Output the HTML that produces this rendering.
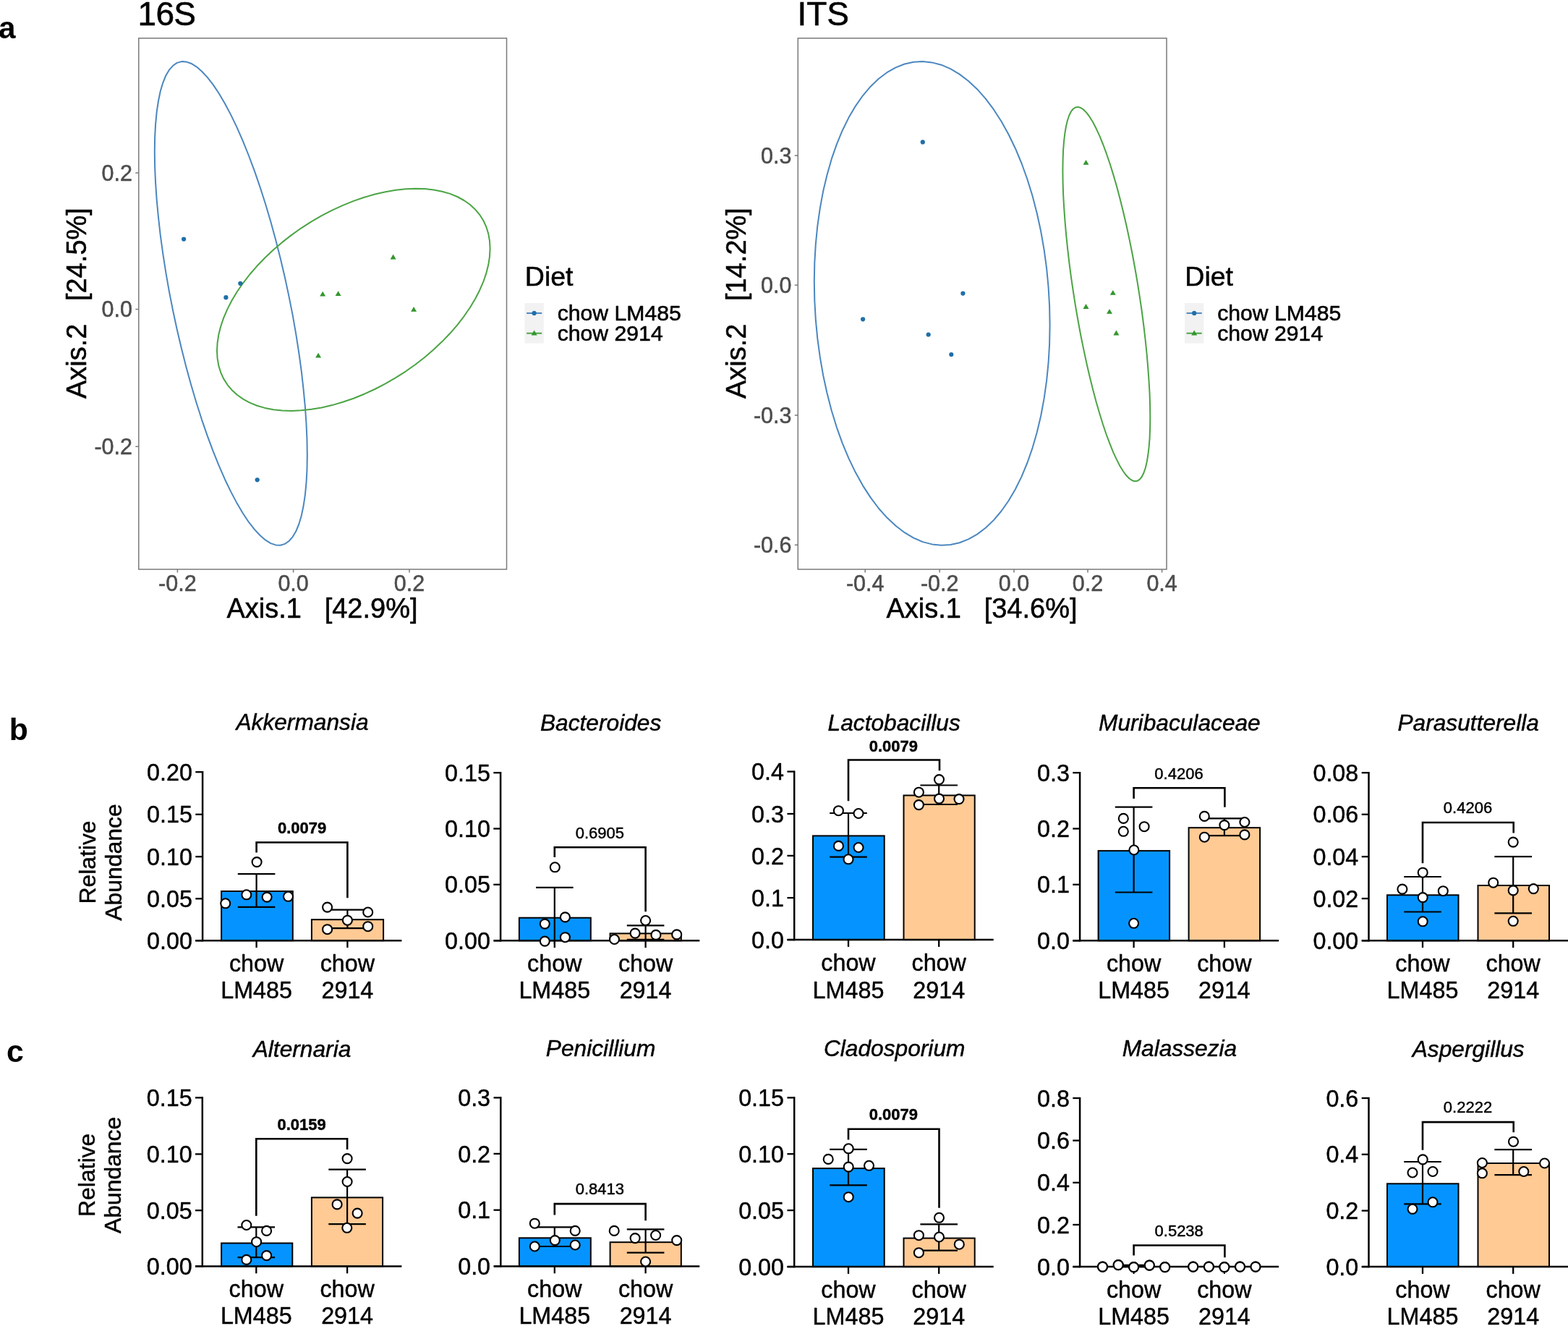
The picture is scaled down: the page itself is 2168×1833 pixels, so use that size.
<!DOCTYPE html>
<html lang="en"><head><meta charset="utf-8"><title>Figure</title>
<style>html,body{margin:0;padding:0;background:#fff}svg{display:block}text{white-space:pre}</style>
</head><body>
<svg width="2168" height="1833" viewBox="0 0 2168 1833" font-family='"Liberation Sans", Arial, Helvetica, sans-serif'>
<rect width="2168" height="1833" fill="#fff"/>
<text x="-2.0" y="52.5" font-size="42.3" text-anchor="start" font-weight="bold" font-style="normal" fill="#000">a</text>
<text x="12.7" y="1022.9" font-size="42.7" text-anchor="start" font-weight="bold" font-style="normal" fill="#000">b</text>
<text x="8.9" y="1468.1" font-size="42.9" text-anchor="start" font-weight="bold" font-style="normal" fill="#000">c</text>
<text x="190.6" y="34.5" font-size="46" text-anchor="start" font-weight="normal" font-style="normal" fill="#000" stroke="#000" stroke-width="0.55" stroke-linejoin="round" letter-spacing="-0.7">16S</text>
<path d="M424.8,629.1 L424.5,648.9 L423.5,667.2 L421.9,684.1 L419.6,699.3 L416.8,712.8 L413.3,724.5 L409.3,734.3 L404.7,742.1 L399.5,748.0 L393.9,751.9 L387.8,753.7 L381.3,753.4 L374.4,751.1 L367.2,746.7 L359.7,740.3 L351.9,731.9 L343.9,721.7 L335.8,709.5 L327.6,695.6 L319.3,679.9 L311.0,662.7 L302.8,643.9 L294.7,623.8 L286.7,602.4 L278.9,579.8 L271.4,556.3 L264.2,532.0 L257.3,506.9 L250.8,481.3 L244.7,455.3 L239.1,429.2 L233.9,402.9 L229.3,376.7 L225.3,350.9 L221.8,325.4 L219.0,300.5 L216.7,276.3 L215.1,253.1 L214.1,230.8 L213.8,209.7 L214.1,189.9 L215.1,171.6 L216.7,154.7 L219.0,139.5 L221.8,126.0 L225.3,114.3 L229.3,104.5 L233.9,96.7 L239.1,90.8 L244.7,86.9 L250.8,85.1 L257.3,85.4 L264.2,87.7 L271.4,92.1 L278.9,98.5 L286.7,106.9 L294.7,117.1 L302.8,129.3 L311.0,143.2 L319.3,158.9 L327.6,176.1 L335.8,194.9 L343.9,215.0 L351.9,236.4 L359.7,259.0 L367.2,282.5 L374.4,306.8 L381.3,331.9 L387.8,357.5 L393.9,383.5 L399.5,409.6 L404.7,435.9 L409.3,462.1 L413.3,487.9 L416.8,513.4 L419.6,538.3 L421.9,562.5 L423.5,585.7 L424.5,608.0Z" fill="none" stroke="#4b87c0" stroke-width="2.0" stroke-linejoin="round"/>
<path d="M677.6,343.6 L677.0,354.6 L675.3,365.8 L672.4,377.4 L668.4,389.2 L663.2,401.2 L657.0,413.3 L649.8,425.3 L641.5,437.3 L632.4,449.1 L622.3,460.8 L611.4,472.1 L599.8,483.1 L587.4,493.7 L574.5,503.7 L561.1,513.3 L547.1,522.2 L532.9,530.4 L518.3,538.0 L503.6,544.7 L488.8,550.7 L474.0,555.8 L459.3,560.1 L444.7,563.4 L430.5,565.8 L416.5,567.3 L403.1,567.9 L390.2,567.5 L377.8,566.2 L366.2,563.9 L355.3,560.7 L345.2,556.6 L336.1,551.6 L327.8,545.8 L320.6,539.2 L314.4,531.8 L309.2,523.6 L305.2,514.8 L302.3,505.4 L300.6,495.4 L300.0,485.0 L300.6,474.0 L302.3,462.8 L305.2,451.2 L309.2,439.4 L314.4,427.4 L320.6,415.3 L327.8,403.3 L336.1,391.3 L345.2,379.5 L355.3,367.8 L366.2,356.5 L377.8,345.5 L390.2,334.9 L403.1,324.9 L416.5,315.3 L430.5,306.4 L444.7,298.2 L459.3,290.6 L474.0,283.9 L488.8,277.9 L503.6,272.8 L518.3,268.5 L532.9,265.2 L547.1,262.8 L561.1,261.3 L574.5,260.7 L587.4,261.1 L599.8,262.4 L611.4,264.7 L622.3,267.9 L632.4,272.0 L641.5,277.0 L649.8,282.8 L657.0,289.4 L663.2,296.8 L668.4,305.0 L672.4,313.8 L675.3,323.2 L677.0,333.2Z" fill="none" stroke="#4ba444" stroke-width="2.0" stroke-linejoin="round"/>
<circle cx="254.1" cy="330.6" r="3.1" fill="#1f6fa9"/>
<circle cx="312.4" cy="411.2" r="3.1" fill="#1f6fa9"/>
<circle cx="332.3" cy="391.8" r="3.1" fill="#1f6fa9"/>
<circle cx="355.7" cy="663.3" r="3.1" fill="#1f6fa9"/>
<path d="M543.6,351.5 L547.6,358.4 L539.6,358.4Z" fill="#33962d"/>
<path d="M446.2,402.7 L450.2,409.6 L442.2,409.6Z" fill="#33962d"/>
<path d="M467.6,402.2 L471.6,409.1 L463.6,409.1Z" fill="#33962d"/>
<path d="M572.1,423.9 L576.1,430.8 L568.1,430.8Z" fill="#33962d"/>
<path d="M440.1,487.7 L444.1,494.6 L436.1,494.6Z" fill="#33962d"/>
<rect x="191.8" y="52.8" width="508.7" height="734.2" fill="none" stroke="#7a7a7a" stroke-width="1.5"/>
<line x1="245.4" y1="787" x2="245.4" y2="791.5" stroke="#7a7a7a" stroke-width="1.5"/>
<text x="245.4" y="816.8" font-size="30.5" text-anchor="middle" font-weight="normal" font-style="normal" fill="#4d4d4d" stroke="#4d4d4d" stroke-width="0.55" stroke-linejoin="round">-0.2</text>
<line x1="405.6" y1="787" x2="405.6" y2="791.5" stroke="#7a7a7a" stroke-width="1.5"/>
<text x="405.6" y="816.8" font-size="30.5" text-anchor="middle" font-weight="normal" font-style="normal" fill="#4d4d4d" stroke="#4d4d4d" stroke-width="0.55" stroke-linejoin="round">0.0</text>
<line x1="566" y1="787" x2="566" y2="791.5" stroke="#7a7a7a" stroke-width="1.5"/>
<text x="566.0" y="816.8" font-size="30.5" text-anchor="middle" font-weight="normal" font-style="normal" fill="#4d4d4d" stroke="#4d4d4d" stroke-width="0.55" stroke-linejoin="round">0.2</text>
<line x1="187.3" y1="239" x2="191.8" y2="239" stroke="#7a7a7a" stroke-width="1.5"/>
<text x="183.0" y="249.9" font-size="30.5" text-anchor="end" font-weight="normal" font-style="normal" fill="#4d4d4d" stroke="#4d4d4d" stroke-width="0.55" stroke-linejoin="round">0.2</text>
<line x1="187.3" y1="427.5" x2="191.8" y2="427.5" stroke="#7a7a7a" stroke-width="1.5"/>
<text x="183.0" y="438.4" font-size="30.5" text-anchor="end" font-weight="normal" font-style="normal" fill="#4d4d4d" stroke="#4d4d4d" stroke-width="0.55" stroke-linejoin="round">0.0</text>
<line x1="187.3" y1="617.3" x2="191.8" y2="617.3" stroke="#7a7a7a" stroke-width="1.5"/>
<text x="183.0" y="628.2" font-size="30.5" text-anchor="end" font-weight="normal" font-style="normal" fill="#4d4d4d" stroke="#4d4d4d" stroke-width="0.55" stroke-linejoin="round">-0.2</text>
<text x="445.5" y="854.3" font-size="38" text-anchor="middle" font-weight="normal" font-style="normal" fill="#000" stroke="#000" stroke-width="0.55" stroke-linejoin="round" xml:space="preserve">Axis.1   [42.9%]</text>
<text transform="translate(119.0,419.1) rotate(-90)" font-size="38" text-anchor="middle" fill="#000" stroke="#000" stroke-width="0.55" stroke-linejoin="round" xml:space="preserve">Axis.2   [24.5%]</text>
<text x="725.8" y="395.1" font-size="37.5" text-anchor="start" font-weight="normal" font-style="normal" fill="#000" stroke="#000" stroke-width="0.55" stroke-linejoin="round">Diet</text>
<rect x="725.5" y="419" width="26.3" height="55.6" fill="#f2f2f2"/>
<line x1="728.1" y1="432.9" x2="749.1999999999999" y2="432.9" stroke="#4b87c0" stroke-width="2.0"/>
<circle cx="738.6" cy="432.9" r="3.1" fill="#1f6fa9"/>
<text x="770.7" y="442.8" font-size="30.2" text-anchor="start" font-weight="normal" font-style="normal" fill="#000" stroke="#000" stroke-width="0.55" stroke-linejoin="round">chow LM485</text>
<line x1="728.1" y1="460.7" x2="749.1999999999999" y2="460.7" stroke="#4ba444" stroke-width="2.0"/>
<path d="M738.6,456.6 L742.6,463.5 L734.6,463.5Z" fill="#33962d"/>
<text x="770.7" y="471.0" font-size="30.2" text-anchor="start" font-weight="normal" font-style="normal" fill="#000" stroke="#000" stroke-width="0.55" stroke-linejoin="round">chow 2914</text>
<text x="1102.4" y="34.5" font-size="46" text-anchor="start" font-weight="normal" font-style="normal" fill="#000" stroke="#000" stroke-width="0.55" stroke-linejoin="round">ITS</text>
<path d="M1451.6,449.5 L1451.1,475.5 L1449.6,501.2 L1447.1,526.4 L1443.6,550.9 L1439.2,574.7 L1433.8,597.4 L1427.6,619.1 L1420.5,639.5 L1412.6,658.6 L1403.9,676.2 L1394.5,692.2 L1384.5,706.5 L1373.8,719.1 L1362.7,729.8 L1351.0,738.6 L1339.0,745.4 L1326.7,750.3 L1314.2,753.1 L1301.5,753.8 L1288.7,752.4 L1275.9,749.1 L1263.2,743.6 L1250.7,736.2 L1238.4,726.8 L1226.4,715.6 L1214.7,702.5 L1203.6,687.6 L1192.9,671.1 L1182.9,653.1 L1173.5,633.6 L1164.8,612.8 L1156.9,590.8 L1149.8,567.8 L1143.6,543.8 L1138.2,519.0 L1133.8,493.7 L1130.3,467.9 L1127.8,441.8 L1126.3,415.5 L1125.8,389.3 L1126.3,363.3 L1127.8,337.6 L1130.3,312.4 L1133.8,287.9 L1138.2,264.1 L1143.6,241.4 L1149.8,219.7 L1156.9,199.3 L1164.8,180.2 L1173.5,162.6 L1182.9,146.6 L1192.9,132.3 L1203.6,119.7 L1214.7,109.0 L1226.4,100.2 L1238.4,93.4 L1250.7,88.5 L1263.2,85.7 L1275.9,85.0 L1288.7,86.4 L1301.5,89.7 L1314.2,95.2 L1326.7,102.6 L1339.0,112.0 L1351.0,123.2 L1362.7,136.3 L1373.8,151.2 L1384.5,167.7 L1394.5,185.7 L1403.9,205.2 L1412.6,226.0 L1420.5,248.0 L1427.6,271.0 L1433.8,295.0 L1439.2,319.8 L1443.6,345.1 L1447.1,370.9 L1449.6,397.0 L1451.1,423.3Z" fill="none" stroke="#4b87c0" stroke-width="2.0" stroke-linejoin="round"/>
<path d="M1590.3,577.3 L1590.1,592.1 L1589.6,605.6 L1588.6,618.0 L1587.3,629.0 L1585.7,638.7 L1583.7,647.0 L1581.4,653.7 L1578.8,659.0 L1575.8,662.7 L1572.6,664.8 L1569.1,665.3 L1565.4,664.2 L1561.4,661.5 L1557.3,657.3 L1553.0,651.5 L1548.5,644.2 L1544.0,635.4 L1539.3,625.3 L1534.6,613.7 L1529.8,601.0 L1525.1,587.0 L1520.4,571.8 L1515.7,555.7 L1511.2,538.7 L1506.7,520.8 L1502.4,502.3 L1498.3,483.1 L1494.3,463.5 L1490.6,443.5 L1487.1,423.3 L1483.9,403.0 L1480.9,382.7 L1478.3,362.6 L1476.0,342.7 L1474.0,323.2 L1472.4,304.3 L1471.1,285.9 L1470.1,268.4 L1469.6,251.6 L1469.4,235.9 L1469.6,221.1 L1470.1,207.6 L1471.1,195.2 L1472.4,184.2 L1474.0,174.5 L1476.0,166.2 L1478.3,159.5 L1480.9,154.2 L1483.9,150.5 L1487.1,148.4 L1490.6,147.9 L1494.3,149.0 L1498.3,151.7 L1502.4,155.9 L1506.7,161.7 L1511.2,169.0 L1515.7,177.8 L1520.4,187.9 L1525.1,199.5 L1529.8,212.2 L1534.6,226.2 L1539.3,241.4 L1544.0,257.5 L1548.5,274.5 L1553.0,292.4 L1557.3,310.9 L1561.4,330.1 L1565.4,349.7 L1569.1,369.7 L1572.6,389.9 L1575.8,410.2 L1578.8,430.5 L1581.4,450.6 L1583.7,470.5 L1585.7,490.0 L1587.3,508.9 L1588.6,527.3 L1589.6,544.8 L1590.1,561.6Z" fill="none" stroke="#4ba444" stroke-width="2.0" stroke-linejoin="round"/>
<circle cx="1275.8" cy="196.4" r="3.1" fill="#1f6fa9"/>
<circle cx="1331.4" cy="405.6" r="3.1" fill="#1f6fa9"/>
<circle cx="1193.1" cy="441.3" r="3.1" fill="#1f6fa9"/>
<circle cx="1283.7" cy="462.5" r="3.1" fill="#1f6fa9"/>
<circle cx="1315.3" cy="490.0" r="3.1" fill="#1f6fa9"/>
<path d="M1501.5,220.9 L1505.5,227.8 L1497.5,227.8Z" fill="#33962d"/>
<path d="M1538.8,400.9 L1542.8,407.8 L1534.8,407.8Z" fill="#33962d"/>
<path d="M1501.5,420.1 L1505.5,427.0 L1497.5,427.0Z" fill="#33962d"/>
<path d="M1534.0,426.9 L1538.0,433.8 L1530.0,433.8Z" fill="#33962d"/>
<path d="M1543.4,456.6 L1547.4,463.5 L1539.4,463.5Z" fill="#33962d"/>
<rect x="1103.3" y="52.8" width="509.7" height="734.2" fill="none" stroke="#7a7a7a" stroke-width="1.5"/>
<line x1="1196.2" y1="787" x2="1196.2" y2="791.5" stroke="#7a7a7a" stroke-width="1.5"/>
<text x="1196.2" y="816.8" font-size="30.5" text-anchor="middle" font-weight="normal" font-style="normal" fill="#4d4d4d" stroke="#4d4d4d" stroke-width="0.55" stroke-linejoin="round">-0.4</text>
<line x1="1299.2" y1="787" x2="1299.2" y2="791.5" stroke="#7a7a7a" stroke-width="1.5"/>
<text x="1299.2" y="816.8" font-size="30.5" text-anchor="middle" font-weight="normal" font-style="normal" fill="#4d4d4d" stroke="#4d4d4d" stroke-width="0.55" stroke-linejoin="round">-0.2</text>
<line x1="1402" y1="787" x2="1402" y2="791.5" stroke="#7a7a7a" stroke-width="1.5"/>
<text x="1402.0" y="816.8" font-size="30.5" text-anchor="middle" font-weight="normal" font-style="normal" fill="#4d4d4d" stroke="#4d4d4d" stroke-width="0.55" stroke-linejoin="round">0.0</text>
<line x1="1504" y1="787" x2="1504" y2="791.5" stroke="#7a7a7a" stroke-width="1.5"/>
<text x="1504.0" y="816.8" font-size="30.5" text-anchor="middle" font-weight="normal" font-style="normal" fill="#4d4d4d" stroke="#4d4d4d" stroke-width="0.55" stroke-linejoin="round">0.2</text>
<line x1="1606.6" y1="787" x2="1606.6" y2="791.5" stroke="#7a7a7a" stroke-width="1.5"/>
<text x="1606.6" y="816.8" font-size="30.5" text-anchor="middle" font-weight="normal" font-style="normal" fill="#4d4d4d" stroke="#4d4d4d" stroke-width="0.55" stroke-linejoin="round">0.4</text>
<line x1="1098.8" y1="215" x2="1103.3" y2="215" stroke="#7a7a7a" stroke-width="1.5"/>
<text x="1094.5" y="225.9" font-size="30.5" text-anchor="end" font-weight="normal" font-style="normal" fill="#4d4d4d" stroke="#4d4d4d" stroke-width="0.55" stroke-linejoin="round">0.3</text>
<line x1="1098.8" y1="394.1" x2="1103.3" y2="394.1" stroke="#7a7a7a" stroke-width="1.5"/>
<text x="1094.5" y="405.0" font-size="30.5" text-anchor="end" font-weight="normal" font-style="normal" fill="#4d4d4d" stroke="#4d4d4d" stroke-width="0.55" stroke-linejoin="round">0.0</text>
<line x1="1098.8" y1="574" x2="1103.3" y2="574" stroke="#7a7a7a" stroke-width="1.5"/>
<text x="1094.5" y="584.9" font-size="30.5" text-anchor="end" font-weight="normal" font-style="normal" fill="#4d4d4d" stroke="#4d4d4d" stroke-width="0.55" stroke-linejoin="round">-0.3</text>
<line x1="1098.8" y1="753.3" x2="1103.3" y2="753.3" stroke="#7a7a7a" stroke-width="1.5"/>
<text x="1094.5" y="764.2" font-size="30.5" text-anchor="end" font-weight="normal" font-style="normal" fill="#4d4d4d" stroke="#4d4d4d" stroke-width="0.55" stroke-linejoin="round">-0.6</text>
<text x="1357.5" y="854.3" font-size="38" text-anchor="middle" font-weight="normal" font-style="normal" fill="#000" stroke="#000" stroke-width="0.55" stroke-linejoin="round" xml:space="preserve">Axis.1   [34.6%]</text>
<text transform="translate(1031.0,419.1) rotate(-90)" font-size="38" text-anchor="middle" fill="#000" stroke="#000" stroke-width="0.55" stroke-linejoin="round" xml:space="preserve">Axis.2   [14.2%]</text>
<text x="1638.3" y="395.1" font-size="37.5" text-anchor="start" font-weight="normal" font-style="normal" fill="#000" stroke="#000" stroke-width="0.55" stroke-linejoin="round">Diet</text>
<rect x="1638" y="419" width="26.3" height="55.6" fill="#f2f2f2"/>
<line x1="1640.6" y1="432.9" x2="1661.7" y2="432.9" stroke="#4b87c0" stroke-width="2.0"/>
<circle cx="1651.2" cy="432.9" r="3.1" fill="#1f6fa9"/>
<text x="1683.2" y="442.8" font-size="30.2" text-anchor="start" font-weight="normal" font-style="normal" fill="#000" stroke="#000" stroke-width="0.55" stroke-linejoin="round">chow LM485</text>
<line x1="1640.6" y1="460.7" x2="1661.7" y2="460.7" stroke="#4ba444" stroke-width="2.0"/>
<path d="M1651.2,456.6 L1655.2,463.5 L1647.2,463.5Z" fill="#33962d"/>
<text x="1683.2" y="471.0" font-size="30.2" text-anchor="start" font-weight="normal" font-style="normal" fill="#000" stroke="#000" stroke-width="0.55" stroke-linejoin="round">chow 2914</text>
<text transform="translate(132.0,1192.0) rotate(-90)" font-size="31.9" text-anchor="middle" fill="#000" stroke="#000" stroke-width="0.45" stroke-linejoin="round" xml:space="preserve">Relative</text>
<text transform="translate(168.0,1192.0) rotate(-90)" font-size="31.9" text-anchor="middle" fill="#000" stroke="#000" stroke-width="0.45" stroke-linejoin="round" xml:space="preserve">Abundance</text>
<text transform="translate(131.0,1624.4) rotate(-90)" font-size="31.9" text-anchor="middle" fill="#000" stroke="#000" stroke-width="0.45" stroke-linejoin="round" xml:space="preserve">Relative</text>
<text transform="translate(167.0,1624.4) rotate(-90)" font-size="31.9" text-anchor="middle" fill="#000" stroke="#000" stroke-width="0.45" stroke-linejoin="round" xml:space="preserve">Abundance</text>
<text x="418.0" y="1009.0" font-size="31.7" text-anchor="middle" font-weight="normal" font-style="italic" fill="#000" stroke="#000" stroke-width="0.45" stroke-linejoin="round">Akkermansia</text>
<rect x="306.1" y="1232.0" width="98.7" height="68.2" fill="#0594ff" stroke="#000" stroke-width="2.0"/>
<rect x="430.9" y="1271.2" width="99.2" height="29.0" fill="#ffca94" stroke="#000" stroke-width="2.0"/>
<path d="M280.1,1066.0 V1301.4" stroke="#000" stroke-width="2.5" fill="none"/>
<path d="M270.2,1300.2 H555.4" stroke="#000" stroke-width="2.5" fill="none"/>
<path d="M270.3,1067.2 H280.1" stroke="#000" stroke-width="2.3"/>
<text x="265.9" y="1078.8" font-size="32.3" text-anchor="end" font-weight="normal" font-style="normal" fill="#000" stroke="#000" stroke-width="0.45" stroke-linejoin="round">0.20</text>
<path d="M270.3,1125.8 H280.1" stroke="#000" stroke-width="2.3"/>
<text x="265.9" y="1137.4" font-size="32.3" text-anchor="end" font-weight="normal" font-style="normal" fill="#000" stroke="#000" stroke-width="0.45" stroke-linejoin="round">0.15</text>
<path d="M270.3,1184.2 H280.1" stroke="#000" stroke-width="2.3"/>
<text x="265.9" y="1195.8" font-size="32.3" text-anchor="end" font-weight="normal" font-style="normal" fill="#000" stroke="#000" stroke-width="0.45" stroke-linejoin="round">0.10</text>
<path d="M270.3,1242.3 H280.1" stroke="#000" stroke-width="2.3"/>
<text x="265.9" y="1253.9" font-size="32.3" text-anchor="end" font-weight="normal" font-style="normal" fill="#000" stroke="#000" stroke-width="0.45" stroke-linejoin="round">0.05</text>
<path d="M270.3,1300.2 H280.1" stroke="#000" stroke-width="2.3"/>
<text x="265.9" y="1311.8" font-size="32.3" text-anchor="end" font-weight="normal" font-style="normal" fill="#000" stroke="#000" stroke-width="0.45" stroke-linejoin="round">0.00</text>
<path d="M354.6,1300.2 V1310.0" stroke="#000" stroke-width="2.3"/>
<text x="354.6" y="1342.9" font-size="32.3" text-anchor="middle" font-weight="normal" font-style="normal" fill="#000" stroke="#000" stroke-width="0.45" stroke-linejoin="round">chow</text>
<text x="354.6" y="1380.4" font-size="32.3" text-anchor="middle" font-weight="normal" font-style="normal" fill="#000" stroke="#000" stroke-width="0.45" stroke-linejoin="round">LM485</text>
<path d="M480.4,1300.2 V1310.0" stroke="#000" stroke-width="2.3"/>
<text x="480.4" y="1342.9" font-size="32.3" text-anchor="middle" font-weight="normal" font-style="normal" fill="#000" stroke="#000" stroke-width="0.45" stroke-linejoin="round">chow</text>
<text x="480.4" y="1380.4" font-size="32.3" text-anchor="middle" font-weight="normal" font-style="normal" fill="#000" stroke="#000" stroke-width="0.45" stroke-linejoin="round">2914</text>
<path d="M354.6,1208.2 V1253.9 M328.8,1208.2 H380.4 M328.8,1253.9 H380.4" stroke="#000" stroke-width="2.2" fill="none"/>
<path d="M480.4,1257.7 V1283.2 M454.6,1257.7 H506.2 M454.6,1283.2 H506.2" stroke="#000" stroke-width="2.2" fill="none"/>
<circle cx="355.1" cy="1191.6" r="6.5" fill="#fff" stroke="#000" stroke-width="2.1"/>
<circle cx="311.7" cy="1248.8" r="6.5" fill="#fff" stroke="#000" stroke-width="2.1"/>
<circle cx="340.8" cy="1236.8" r="6.5" fill="#fff" stroke="#000" stroke-width="2.1"/>
<circle cx="369.1" cy="1240.1" r="6.5" fill="#fff" stroke="#000" stroke-width="2.1"/>
<circle cx="398.5" cy="1239.3" r="6.5" fill="#fff" stroke="#000" stroke-width="2.1"/>
<circle cx="452.6" cy="1254.1" r="6.5" fill="#fff" stroke="#000" stroke-width="2.1"/>
<circle cx="508.7" cy="1261.0" r="6.5" fill="#fff" stroke="#000" stroke-width="2.1"/>
<circle cx="480.4" cy="1272.2" r="6.5" fill="#fff" stroke="#000" stroke-width="2.1"/>
<circle cx="452.6" cy="1284.7" r="6.5" fill="#fff" stroke="#000" stroke-width="2.1"/>
<circle cx="508.7" cy="1280.7" r="6.5" fill="#fff" stroke="#000" stroke-width="2.1"/>
<path d="M354.6,1178.6 V1164.5 H480.4 V1241.2" stroke="#000" stroke-width="2.6" fill="none" stroke-linejoin="miter"/>
<text x="417.6" y="1152.4" font-size="22" text-anchor="middle" font-weight="bold" font-style="normal" fill="#000" stroke="#000" stroke-width="0.45" stroke-linejoin="round">0.0079</text>
<text x="830.6" y="1009.7" font-size="31.7" text-anchor="middle" font-weight="normal" font-style="italic" fill="#000" stroke="#000" stroke-width="0.45" stroke-linejoin="round">Bacteroides</text>
<rect x="717.9" y="1268.7" width="98.9" height="31.6" fill="#0594ff" stroke="#000" stroke-width="2.0"/>
<rect x="843.6" y="1290.4" width="98.2" height="9.9" fill="#ffca94" stroke="#000" stroke-width="2.0"/>
<path d="M692.1,1067.0 V1301.5" stroke="#000" stroke-width="2.5" fill="none"/>
<path d="M682.9,1300.3 H967.3" stroke="#000" stroke-width="2.5" fill="none"/>
<path d="M682.3,1068.2 H692.1" stroke="#000" stroke-width="2.3"/>
<text x="677.9" y="1079.8" font-size="32.3" text-anchor="end" font-weight="normal" font-style="normal" fill="#000" stroke="#000" stroke-width="0.45" stroke-linejoin="round">0.15</text>
<path d="M682.3,1145.5 H692.1" stroke="#000" stroke-width="2.3"/>
<text x="677.9" y="1157.1" font-size="32.3" text-anchor="end" font-weight="normal" font-style="normal" fill="#000" stroke="#000" stroke-width="0.45" stroke-linejoin="round">0.10</text>
<path d="M682.3,1222.8 H692.1" stroke="#000" stroke-width="2.3"/>
<text x="677.9" y="1234.4" font-size="32.3" text-anchor="end" font-weight="normal" font-style="normal" fill="#000" stroke="#000" stroke-width="0.45" stroke-linejoin="round">0.05</text>
<path d="M682.3,1300.3 H692.1" stroke="#000" stroke-width="2.3"/>
<text x="677.9" y="1311.9" font-size="32.3" text-anchor="end" font-weight="normal" font-style="normal" fill="#000" stroke="#000" stroke-width="0.45" stroke-linejoin="round">0.00</text>
<path d="M766.8,1300.3 V1310.1" stroke="#000" stroke-width="2.3"/>
<text x="766.8" y="1343.4" font-size="32.3" text-anchor="middle" font-weight="normal" font-style="normal" fill="#000" stroke="#000" stroke-width="0.45" stroke-linejoin="round">chow</text>
<text x="766.8" y="1380.4" font-size="32.3" text-anchor="middle" font-weight="normal" font-style="normal" fill="#000" stroke="#000" stroke-width="0.45" stroke-linejoin="round">LM485</text>
<path d="M892.6,1300.3 V1310.1" stroke="#000" stroke-width="2.3"/>
<text x="892.6" y="1343.4" font-size="32.3" text-anchor="middle" font-weight="normal" font-style="normal" fill="#000" stroke="#000" stroke-width="0.45" stroke-linejoin="round">chow</text>
<text x="892.6" y="1380.4" font-size="32.3" text-anchor="middle" font-weight="normal" font-style="normal" fill="#000" stroke="#000" stroke-width="0.45" stroke-linejoin="round">2914</text>
<path d="M766.8,1226.8 V1305.0 M741.0,1226.8 H792.6" stroke="#000" stroke-width="2.2" fill="none"/>
<path d="M892.6,1279.4 V1298.8 M866.8,1279.4 H918.4 M866.8,1298.8 H918.4" stroke="#000" stroke-width="2.2" fill="none"/>
<circle cx="767.3" cy="1198.8" r="6.5" fill="#fff" stroke="#000" stroke-width="2.1"/>
<circle cx="753.3" cy="1277.1" r="6.5" fill="#fff" stroke="#000" stroke-width="2.1"/>
<circle cx="781.4" cy="1267.9" r="6.5" fill="#fff" stroke="#000" stroke-width="2.1"/>
<circle cx="753.3" cy="1301.1" r="6.5" fill="#fff" stroke="#000" stroke-width="2.1"/>
<circle cx="781.4" cy="1295.7" r="6.5" fill="#fff" stroke="#000" stroke-width="2.1"/>
<circle cx="892.6" cy="1272.5" r="6.5" fill="#fff" stroke="#000" stroke-width="2.1"/>
<circle cx="849.5" cy="1298.5" r="6.5" fill="#fff" stroke="#000" stroke-width="2.1"/>
<circle cx="878.1" cy="1290.1" r="6.5" fill="#fff" stroke="#000" stroke-width="2.1"/>
<circle cx="906.9" cy="1292.4" r="6.5" fill="#fff" stroke="#000" stroke-width="2.1"/>
<circle cx="935.7" cy="1291.9" r="6.5" fill="#fff" stroke="#000" stroke-width="2.1"/>
<path d="M766.8,1185.1 V1171.2 H892.6 V1260.3" stroke="#000" stroke-width="2.6" fill="none" stroke-linejoin="miter"/>
<text x="829.3" y="1159.0" font-size="22" text-anchor="middle" font-weight="normal" font-style="normal" fill="#000" stroke="#000" stroke-width="0.45" stroke-linejoin="round">0.6905</text>
<text x="1236.2" y="1009.7" font-size="31.7" text-anchor="middle" font-weight="normal" font-style="italic" fill="#000" stroke="#000" stroke-width="0.45" stroke-linejoin="round">Lactobacillus</text>
<rect x="1124.0" y="1155.4" width="98.7" height="143.7" fill="#0594ff" stroke="#000" stroke-width="2.0"/>
<rect x="1249.5" y="1099.5" width="98.2" height="199.6" fill="#ffca94" stroke="#000" stroke-width="2.0"/>
<path d="M1098.2,1065.5 V1300.3" stroke="#000" stroke-width="2.5" fill="none"/>
<path d="M1088.5,1299.1 H1373.7" stroke="#000" stroke-width="2.5" fill="none"/>
<path d="M1088.4,1066.6 H1098.2" stroke="#000" stroke-width="2.3"/>
<text x="1084.0" y="1078.2" font-size="32.3" text-anchor="end" font-weight="normal" font-style="normal" fill="#000" stroke="#000" stroke-width="0.45" stroke-linejoin="round">0.4</text>
<path d="M1088.4,1125.0 H1098.2" stroke="#000" stroke-width="2.3"/>
<text x="1084.0" y="1136.6" font-size="32.3" text-anchor="end" font-weight="normal" font-style="normal" fill="#000" stroke="#000" stroke-width="0.45" stroke-linejoin="round">0.3</text>
<path d="M1088.4,1182.9 H1098.2" stroke="#000" stroke-width="2.3"/>
<text x="1084.0" y="1194.5" font-size="32.3" text-anchor="end" font-weight="normal" font-style="normal" fill="#000" stroke="#000" stroke-width="0.45" stroke-linejoin="round">0.2</text>
<path d="M1088.4,1241.1 H1098.2" stroke="#000" stroke-width="2.3"/>
<text x="1084.0" y="1252.7" font-size="32.3" text-anchor="end" font-weight="normal" font-style="normal" fill="#000" stroke="#000" stroke-width="0.45" stroke-linejoin="round">0.1</text>
<path d="M1088.4,1299.1 H1098.2" stroke="#000" stroke-width="2.3"/>
<text x="1084.0" y="1310.7" font-size="32.3" text-anchor="end" font-weight="normal" font-style="normal" fill="#000" stroke="#000" stroke-width="0.45" stroke-linejoin="round">0.0</text>
<path d="M1173.0,1299.1 V1308.9" stroke="#000" stroke-width="2.3"/>
<text x="1173.0" y="1342.4" font-size="32.3" text-anchor="middle" font-weight="normal" font-style="normal" fill="#000" stroke="#000" stroke-width="0.45" stroke-linejoin="round">chow</text>
<text x="1173.0" y="1379.9" font-size="32.3" text-anchor="middle" font-weight="normal" font-style="normal" fill="#000" stroke="#000" stroke-width="0.45" stroke-linejoin="round">LM485</text>
<path d="M1298.2,1299.1 V1308.9" stroke="#000" stroke-width="2.3"/>
<text x="1298.2" y="1342.4" font-size="32.3" text-anchor="middle" font-weight="normal" font-style="normal" fill="#000" stroke="#000" stroke-width="0.45" stroke-linejoin="round">chow</text>
<text x="1298.2" y="1379.9" font-size="32.3" text-anchor="middle" font-weight="normal" font-style="normal" fill="#000" stroke="#000" stroke-width="0.45" stroke-linejoin="round">2914</text>
<path d="M1173.0,1124.0 V1184.7 M1147.2,1124.0 H1198.8 M1147.2,1184.7 H1198.8" stroke="#000" stroke-width="2.2" fill="none"/>
<path d="M1298.2,1085.5 V1112.0 M1272.4,1085.5 H1324.0 M1272.4,1112.0 H1324.0" stroke="#000" stroke-width="2.2" fill="none"/>
<circle cx="1159.4" cy="1120.7" r="6.5" fill="#fff" stroke="#000" stroke-width="2.1"/>
<circle cx="1187.0" cy="1124.5" r="6.5" fill="#fff" stroke="#000" stroke-width="2.1"/>
<circle cx="1159.4" cy="1169.4" r="6.5" fill="#fff" stroke="#000" stroke-width="2.1"/>
<circle cx="1187.0" cy="1171.5" r="6.5" fill="#fff" stroke="#000" stroke-width="2.1"/>
<circle cx="1173.0" cy="1187.8" r="6.5" fill="#fff" stroke="#000" stroke-width="2.1"/>
<circle cx="1298.5" cy="1077.6" r="6.5" fill="#fff" stroke="#000" stroke-width="2.1"/>
<circle cx="1270.4" cy="1095.2" r="6.5" fill="#fff" stroke="#000" stroke-width="2.1"/>
<circle cx="1270.4" cy="1112.6" r="6.5" fill="#fff" stroke="#000" stroke-width="2.1"/>
<circle cx="1298.5" cy="1104.1" r="6.5" fill="#fff" stroke="#000" stroke-width="2.1"/>
<circle cx="1326.0" cy="1104.6" r="6.5" fill="#fff" stroke="#000" stroke-width="2.1"/>
<path d="M1173.0,1107.3 V1050.5 H1299.0 V1065.2" stroke="#000" stroke-width="2.6" fill="none" stroke-linejoin="miter"/>
<text x="1235.3" y="1039.0" font-size="22" text-anchor="middle" font-weight="bold" font-style="normal" fill="#000" stroke="#000" stroke-width="0.45" stroke-linejoin="round">0.0079</text>
<text x="1630.9" y="1009.7" font-size="31.7" text-anchor="middle" font-weight="normal" font-style="italic" fill="#000" stroke="#000" stroke-width="0.45" stroke-linejoin="round">Muribaculaceae</text>
<rect x="1518.6" y="1176.1" width="98.5" height="124.2" fill="#0594ff" stroke="#000" stroke-width="2.0"/>
<rect x="1643.6" y="1144.2" width="98.5" height="156.1" fill="#ffca94" stroke="#000" stroke-width="2.0"/>
<path d="M1493.1,1067.0 V1301.5" stroke="#000" stroke-width="2.5" fill="none"/>
<path d="M1483.4,1300.3 H1768.1" stroke="#000" stroke-width="2.5" fill="none"/>
<path d="M1483.3,1068.2 H1493.1" stroke="#000" stroke-width="2.3"/>
<text x="1478.9" y="1079.8" font-size="32.3" text-anchor="end" font-weight="normal" font-style="normal" fill="#000" stroke="#000" stroke-width="0.45" stroke-linejoin="round">0.3</text>
<path d="M1483.3,1145.5 H1493.1" stroke="#000" stroke-width="2.3"/>
<text x="1478.9" y="1157.1" font-size="32.3" text-anchor="end" font-weight="normal" font-style="normal" fill="#000" stroke="#000" stroke-width="0.45" stroke-linejoin="round">0.2</text>
<path d="M1483.3,1222.8 H1493.1" stroke="#000" stroke-width="2.3"/>
<text x="1478.9" y="1234.4" font-size="32.3" text-anchor="end" font-weight="normal" font-style="normal" fill="#000" stroke="#000" stroke-width="0.45" stroke-linejoin="round">0.1</text>
<path d="M1483.3,1300.3 H1493.1" stroke="#000" stroke-width="2.3"/>
<text x="1478.9" y="1311.9" font-size="32.3" text-anchor="end" font-weight="normal" font-style="normal" fill="#000" stroke="#000" stroke-width="0.45" stroke-linejoin="round">0.0</text>
<path d="M1567.6,1300.3 V1310.1" stroke="#000" stroke-width="2.3"/>
<text x="1567.6" y="1343.4" font-size="32.3" text-anchor="middle" font-weight="normal" font-style="normal" fill="#000" stroke="#000" stroke-width="0.45" stroke-linejoin="round">chow</text>
<text x="1567.6" y="1380.4" font-size="32.3" text-anchor="middle" font-weight="normal" font-style="normal" fill="#000" stroke="#000" stroke-width="0.45" stroke-linejoin="round">LM485</text>
<path d="M1692.9,1300.3 V1310.1" stroke="#000" stroke-width="2.3"/>
<text x="1692.9" y="1343.4" font-size="32.3" text-anchor="middle" font-weight="normal" font-style="normal" fill="#000" stroke="#000" stroke-width="0.45" stroke-linejoin="round">chow</text>
<text x="1692.9" y="1380.4" font-size="32.3" text-anchor="middle" font-weight="normal" font-style="normal" fill="#000" stroke="#000" stroke-width="0.45" stroke-linejoin="round">2914</text>
<path d="M1567.6,1115.6 V1233.5 M1541.8,1115.6 H1593.4 M1541.8,1233.5 H1593.4" stroke="#000" stroke-width="2.2" fill="none"/>
<path d="M1692.9,1131.4 V1155.2 M1667.1,1131.4 H1718.7 M1667.1,1155.2 H1718.7" stroke="#000" stroke-width="2.2" fill="none"/>
<circle cx="1553.3" cy="1131.4" r="6.5" fill="#fff" stroke="#000" stroke-width="2.1"/>
<circle cx="1553.3" cy="1149.3" r="6.5" fill="#fff" stroke="#000" stroke-width="2.1"/>
<circle cx="1582.1" cy="1142.7" r="6.5" fill="#fff" stroke="#000" stroke-width="2.1"/>
<circle cx="1567.9" cy="1175.0" r="6.5" fill="#fff" stroke="#000" stroke-width="2.1"/>
<circle cx="1567.6" cy="1276.3" r="6.5" fill="#fff" stroke="#000" stroke-width="2.1"/>
<circle cx="1665.3" cy="1128.4" r="6.5" fill="#fff" stroke="#000" stroke-width="2.1"/>
<circle cx="1720.9" cy="1136.5" r="6.5" fill="#fff" stroke="#000" stroke-width="2.1"/>
<circle cx="1692.9" cy="1140.6" r="6.5" fill="#fff" stroke="#000" stroke-width="2.1"/>
<circle cx="1665.3" cy="1157.2" r="6.5" fill="#fff" stroke="#000" stroke-width="2.1"/>
<circle cx="1720.9" cy="1153.9" r="6.5" fill="#fff" stroke="#000" stroke-width="2.1"/>
<path d="M1567.6,1104.0 V1089.3 H1693.4 V1115.7" stroke="#000" stroke-width="2.6" fill="none" stroke-linejoin="miter"/>
<text x="1630.0" y="1077.3" font-size="22" text-anchor="middle" font-weight="normal" font-style="normal" fill="#000" stroke="#000" stroke-width="0.45" stroke-linejoin="round">0.4206</text>
<text x="2030.2" y="1009.7" font-size="31.7" text-anchor="middle" font-weight="normal" font-style="italic" fill="#000" stroke="#000" stroke-width="0.45" stroke-linejoin="round">Parasutterella</text>
<rect x="1918.0" y="1237.3" width="98.5" height="63.0" fill="#0594ff" stroke="#000" stroke-width="2.0"/>
<rect x="2043.5" y="1224.0" width="98.5" height="76.3" fill="#ffca94" stroke="#000" stroke-width="2.0"/>
<path d="M1892.5,1067.0 V1301.5" stroke="#000" stroke-width="2.5" fill="none"/>
<path d="M1882.8,1300.3 H2170.0" stroke="#000" stroke-width="2.5" fill="none"/>
<path d="M1882.7,1068.2 H1892.5" stroke="#000" stroke-width="2.3"/>
<text x="1878.3" y="1079.8" font-size="32.3" text-anchor="end" font-weight="normal" font-style="normal" fill="#000" stroke="#000" stroke-width="0.45" stroke-linejoin="round">0.08</text>
<path d="M1882.7,1125.8 H1892.5" stroke="#000" stroke-width="2.3"/>
<text x="1878.3" y="1137.4" font-size="32.3" text-anchor="end" font-weight="normal" font-style="normal" fill="#000" stroke="#000" stroke-width="0.45" stroke-linejoin="round">0.06</text>
<path d="M1882.7,1184.2 H1892.5" stroke="#000" stroke-width="2.3"/>
<text x="1878.3" y="1195.8" font-size="32.3" text-anchor="end" font-weight="normal" font-style="normal" fill="#000" stroke="#000" stroke-width="0.45" stroke-linejoin="round">0.04</text>
<path d="M1882.7,1242.1 H1892.5" stroke="#000" stroke-width="2.3"/>
<text x="1878.3" y="1253.7" font-size="32.3" text-anchor="end" font-weight="normal" font-style="normal" fill="#000" stroke="#000" stroke-width="0.45" stroke-linejoin="round">0.02</text>
<path d="M1882.7,1300.3 H1892.5" stroke="#000" stroke-width="2.3"/>
<text x="1878.3" y="1311.9" font-size="32.3" text-anchor="end" font-weight="normal" font-style="normal" fill="#000" stroke="#000" stroke-width="0.45" stroke-linejoin="round">0.00</text>
<path d="M1967.0,1300.3 V1310.1" stroke="#000" stroke-width="2.3"/>
<text x="1967.0" y="1343.4" font-size="32.3" text-anchor="middle" font-weight="normal" font-style="normal" fill="#000" stroke="#000" stroke-width="0.45" stroke-linejoin="round">chow</text>
<text x="1967.0" y="1380.4" font-size="32.3" text-anchor="middle" font-weight="normal" font-style="normal" fill="#000" stroke="#000" stroke-width="0.45" stroke-linejoin="round">LM485</text>
<path d="M2092.2,1300.3 V1310.1" stroke="#000" stroke-width="2.3"/>
<text x="2092.2" y="1343.4" font-size="32.3" text-anchor="middle" font-weight="normal" font-style="normal" fill="#000" stroke="#000" stroke-width="0.45" stroke-linejoin="round">chow</text>
<text x="2092.2" y="1380.4" font-size="32.3" text-anchor="middle" font-weight="normal" font-style="normal" fill="#000" stroke="#000" stroke-width="0.45" stroke-linejoin="round">2914</text>
<path d="M1967.0,1212.0 V1260.5 M1941.2,1212.0 H1992.8 M1941.2,1260.5 H1992.8" stroke="#000" stroke-width="2.2" fill="none"/>
<path d="M2092.2,1184.2 V1262.3 M2066.4,1184.2 H2118.0 M2066.4,1262.3 H2118.0" stroke="#000" stroke-width="2.2" fill="none"/>
<circle cx="1967.2" cy="1206.2" r="6.5" fill="#fff" stroke="#000" stroke-width="2.1"/>
<circle cx="1938.9" cy="1229.1" r="6.5" fill="#fff" stroke="#000" stroke-width="2.1"/>
<circle cx="1995.3" cy="1231.7" r="6.5" fill="#fff" stroke="#000" stroke-width="2.1"/>
<circle cx="1967.2" cy="1240.6" r="6.5" fill="#fff" stroke="#000" stroke-width="2.1"/>
<circle cx="1967.2" cy="1273.8" r="6.5" fill="#fff" stroke="#000" stroke-width="2.1"/>
<circle cx="2092.2" cy="1164.1" r="6.5" fill="#fff" stroke="#000" stroke-width="2.1"/>
<circle cx="2064.7" cy="1220.2" r="6.5" fill="#fff" stroke="#000" stroke-width="2.1"/>
<circle cx="2092.2" cy="1230.9" r="6.5" fill="#fff" stroke="#000" stroke-width="2.1"/>
<circle cx="2120.3" cy="1228.6" r="6.5" fill="#fff" stroke="#000" stroke-width="2.1"/>
<circle cx="2092.2" cy="1273.3" r="6.5" fill="#fff" stroke="#000" stroke-width="2.1"/>
<path d="M1967.0,1193.3 V1137.0 H2092.7 V1151.4" stroke="#000" stroke-width="2.6" fill="none" stroke-linejoin="miter"/>
<text x="2029.5" y="1124.0" font-size="22" text-anchor="middle" font-weight="normal" font-style="normal" fill="#000" stroke="#000" stroke-width="0.45" stroke-linejoin="round">0.4206</text>
<text x="417.5" y="1460.8" font-size="31.7" text-anchor="middle" font-weight="normal" font-style="italic" fill="#000" stroke="#000" stroke-width="0.45" stroke-linejoin="round">Alternaria</text>
<rect x="306.1" y="1718.5" width="98.2" height="32.0" fill="#0594ff" stroke="#000" stroke-width="2.0"/>
<rect x="430.9" y="1655.4" width="98.2" height="95.1" fill="#ffca94" stroke="#000" stroke-width="2.0"/>
<path d="M279.8,1516.2 V1751.8" stroke="#000" stroke-width="2.5" fill="none"/>
<path d="M270.2,1750.5 H555.4" stroke="#000" stroke-width="2.5" fill="none"/>
<path d="M270.0,1517.4 H279.8" stroke="#000" stroke-width="2.3"/>
<text x="265.6" y="1529.0" font-size="32.3" text-anchor="end" font-weight="normal" font-style="normal" fill="#000" stroke="#000" stroke-width="0.45" stroke-linejoin="round">0.15</text>
<path d="M270.0,1595.4 H279.8" stroke="#000" stroke-width="2.3"/>
<text x="265.6" y="1607.0" font-size="32.3" text-anchor="end" font-weight="normal" font-style="normal" fill="#000" stroke="#000" stroke-width="0.45" stroke-linejoin="round">0.10</text>
<path d="M270.0,1673.2 H279.8" stroke="#000" stroke-width="2.3"/>
<text x="265.6" y="1684.8" font-size="32.3" text-anchor="end" font-weight="normal" font-style="normal" fill="#000" stroke="#000" stroke-width="0.45" stroke-linejoin="round">0.05</text>
<path d="M270.0,1750.5 H279.8" stroke="#000" stroke-width="2.3"/>
<text x="265.6" y="1762.1" font-size="32.3" text-anchor="end" font-weight="normal" font-style="normal" fill="#000" stroke="#000" stroke-width="0.45" stroke-linejoin="round">0.00</text>
<path d="M354.3,1750.5 V1760.3" stroke="#000" stroke-width="2.3"/>
<text x="354.3" y="1793.0" font-size="32.3" text-anchor="middle" font-weight="normal" font-style="normal" fill="#000" stroke="#000" stroke-width="0.45" stroke-linejoin="round">chow</text>
<text x="354.3" y="1830.0" font-size="32.3" text-anchor="middle" font-weight="normal" font-style="normal" fill="#000" stroke="#000" stroke-width="0.45" stroke-linejoin="round">LM485</text>
<path d="M480.1,1750.5 V1760.3" stroke="#000" stroke-width="2.3"/>
<text x="480.1" y="1793.0" font-size="32.3" text-anchor="middle" font-weight="normal" font-style="normal" fill="#000" stroke="#000" stroke-width="0.45" stroke-linejoin="round">chow</text>
<text x="480.1" y="1830.0" font-size="32.3" text-anchor="middle" font-weight="normal" font-style="normal" fill="#000" stroke="#000" stroke-width="0.45" stroke-linejoin="round">2914</text>
<path d="M354.3,1696.3 V1738.1 M328.5,1696.3 H380.1 M328.5,1738.1 H380.1" stroke="#000" stroke-width="2.2" fill="none"/>
<path d="M480.1,1616.7 V1692.2 M454.3,1616.7 H505.9 M454.3,1692.2 H505.9" stroke="#000" stroke-width="2.2" fill="none"/>
<circle cx="340.8" cy="1693.5" r="6.5" fill="#fff" stroke="#000" stroke-width="2.1"/>
<circle cx="368.6" cy="1701.4" r="6.5" fill="#fff" stroke="#000" stroke-width="2.1"/>
<circle cx="354.6" cy="1716.7" r="6.5" fill="#fff" stroke="#000" stroke-width="2.1"/>
<circle cx="368.6" cy="1735.6" r="6.5" fill="#fff" stroke="#000" stroke-width="2.1"/>
<circle cx="340.8" cy="1741.4" r="6.5" fill="#fff" stroke="#000" stroke-width="2.1"/>
<circle cx="480.1" cy="1601.6" r="6.5" fill="#fff" stroke="#000" stroke-width="2.1"/>
<circle cx="480.1" cy="1633.5" r="6.5" fill="#fff" stroke="#000" stroke-width="2.1"/>
<circle cx="466.1" cy="1664.9" r="6.5" fill="#fff" stroke="#000" stroke-width="2.1"/>
<circle cx="494.1" cy="1677.1" r="6.5" fill="#fff" stroke="#000" stroke-width="2.1"/>
<circle cx="479.8" cy="1697.3" r="6.5" fill="#fff" stroke="#000" stroke-width="2.1"/>
<path d="M354.3,1680.8 V1574.3 H480.1 V1589.0" stroke="#000" stroke-width="2.6" fill="none" stroke-linejoin="miter"/>
<text x="417.1" y="1561.6" font-size="22" text-anchor="middle" font-weight="bold" font-style="normal" fill="#000" stroke="#000" stroke-width="0.45" stroke-linejoin="round">0.0159</text>
<text x="830.6" y="1459.5" font-size="31.7" text-anchor="middle" font-weight="normal" font-style="italic" fill="#000" stroke="#000" stroke-width="0.45" stroke-linejoin="round">Penicillium</text>
<rect x="717.9" y="1711.3" width="98.9" height="39.2" fill="#0594ff" stroke="#000" stroke-width="2.0"/>
<rect x="843.6" y="1717.2" width="98.2" height="33.3" fill="#ffca94" stroke="#000" stroke-width="2.0"/>
<path d="M692.3,1516.2 V1751.8" stroke="#000" stroke-width="2.5" fill="none"/>
<path d="M682.9,1750.5 H967.3" stroke="#000" stroke-width="2.5" fill="none"/>
<path d="M682.5,1517.4 H692.3" stroke="#000" stroke-width="2.3"/>
<text x="678.1" y="1529.0" font-size="32.3" text-anchor="end" font-weight="normal" font-style="normal" fill="#000" stroke="#000" stroke-width="0.45" stroke-linejoin="round">0.3</text>
<path d="M682.5,1594.9 H692.3" stroke="#000" stroke-width="2.3"/>
<text x="678.1" y="1606.5" font-size="32.3" text-anchor="end" font-weight="normal" font-style="normal" fill="#000" stroke="#000" stroke-width="0.45" stroke-linejoin="round">0.2</text>
<path d="M682.5,1672.7 H692.3" stroke="#000" stroke-width="2.3"/>
<text x="678.1" y="1684.3" font-size="32.3" text-anchor="end" font-weight="normal" font-style="normal" fill="#000" stroke="#000" stroke-width="0.45" stroke-linejoin="round">0.1</text>
<path d="M682.5,1750.5 H692.3" stroke="#000" stroke-width="2.3"/>
<text x="678.1" y="1762.1" font-size="32.3" text-anchor="end" font-weight="normal" font-style="normal" fill="#000" stroke="#000" stroke-width="0.45" stroke-linejoin="round">0.0</text>
<path d="M766.8,1750.5 V1760.3" stroke="#000" stroke-width="2.3"/>
<text x="766.8" y="1793.0" font-size="32.3" text-anchor="middle" font-weight="normal" font-style="normal" fill="#000" stroke="#000" stroke-width="0.45" stroke-linejoin="round">chow</text>
<text x="766.8" y="1830.0" font-size="32.3" text-anchor="middle" font-weight="normal" font-style="normal" fill="#000" stroke="#000" stroke-width="0.45" stroke-linejoin="round">LM485</text>
<path d="M892.6,1750.5 V1760.3" stroke="#000" stroke-width="2.3"/>
<text x="892.6" y="1793.0" font-size="32.3" text-anchor="middle" font-weight="normal" font-style="normal" fill="#000" stroke="#000" stroke-width="0.45" stroke-linejoin="round">chow</text>
<text x="892.6" y="1830.0" font-size="32.3" text-anchor="middle" font-weight="normal" font-style="normal" fill="#000" stroke="#000" stroke-width="0.45" stroke-linejoin="round">2914</text>
<path d="M766.8,1696.3 V1723.0 M741.0,1696.3 H792.6 M741.0,1723.0 H792.6" stroke="#000" stroke-width="2.2" fill="none"/>
<path d="M892.6,1699.3 V1731.7 M866.8,1699.3 H918.4 M866.8,1731.7 H918.4" stroke="#000" stroke-width="2.2" fill="none"/>
<circle cx="739.3" cy="1691.2" r="6.5" fill="#fff" stroke="#000" stroke-width="2.1"/>
<circle cx="795.2" cy="1701.4" r="6.5" fill="#fff" stroke="#000" stroke-width="2.1"/>
<circle cx="767.3" cy="1714.6" r="6.5" fill="#fff" stroke="#000" stroke-width="2.1"/>
<circle cx="739.3" cy="1723.0" r="6.5" fill="#fff" stroke="#000" stroke-width="2.1"/>
<circle cx="795.2" cy="1721.0" r="6.5" fill="#fff" stroke="#000" stroke-width="2.1"/>
<circle cx="849.2" cy="1701.4" r="6.5" fill="#fff" stroke="#000" stroke-width="2.1"/>
<circle cx="878.1" cy="1711.6" r="6.5" fill="#fff" stroke="#000" stroke-width="2.1"/>
<circle cx="906.6" cy="1707.5" r="6.5" fill="#fff" stroke="#000" stroke-width="2.1"/>
<circle cx="935.7" cy="1714.6" r="6.5" fill="#fff" stroke="#000" stroke-width="2.1"/>
<circle cx="892.6" cy="1744.0" r="6.5" fill="#fff" stroke="#000" stroke-width="2.1"/>
<path d="M766.8,1679.5 V1664.1 H892.6 V1687.2" stroke="#000" stroke-width="2.6" fill="none" stroke-linejoin="miter"/>
<text x="829.3" y="1651.4" font-size="22" text-anchor="middle" font-weight="normal" font-style="normal" fill="#000" stroke="#000" stroke-width="0.45" stroke-linejoin="round">0.8413</text>
<text x="1236.7" y="1459.5" font-size="31.7" text-anchor="middle" font-weight="normal" font-style="italic" fill="#000" stroke="#000" stroke-width="0.45" stroke-linejoin="round">Cladosporium</text>
<rect x="1124.0" y="1615.1" width="98.7" height="136.0" fill="#0594ff" stroke="#000" stroke-width="2.0"/>
<rect x="1249.5" y="1711.6" width="98.2" height="39.5" fill="#ffca94" stroke="#000" stroke-width="2.0"/>
<path d="M1098.2,1516.2 V1752.3" stroke="#000" stroke-width="2.5" fill="none"/>
<path d="M1088.5,1751.1 H1373.7" stroke="#000" stroke-width="2.5" fill="none"/>
<path d="M1088.4,1517.4 H1098.2" stroke="#000" stroke-width="2.3"/>
<text x="1084.0" y="1529.0" font-size="32.3" text-anchor="end" font-weight="normal" font-style="normal" fill="#000" stroke="#000" stroke-width="0.45" stroke-linejoin="round">0.15</text>
<path d="M1088.4,1595.2 H1098.2" stroke="#000" stroke-width="2.3"/>
<text x="1084.0" y="1606.8" font-size="32.3" text-anchor="end" font-weight="normal" font-style="normal" fill="#000" stroke="#000" stroke-width="0.45" stroke-linejoin="round">0.10</text>
<path d="M1088.4,1673.1 H1098.2" stroke="#000" stroke-width="2.3"/>
<text x="1084.0" y="1684.7" font-size="32.3" text-anchor="end" font-weight="normal" font-style="normal" fill="#000" stroke="#000" stroke-width="0.45" stroke-linejoin="round">0.05</text>
<path d="M1088.4,1751.1 H1098.2" stroke="#000" stroke-width="2.3"/>
<text x="1084.0" y="1762.7" font-size="32.3" text-anchor="end" font-weight="normal" font-style="normal" fill="#000" stroke="#000" stroke-width="0.45" stroke-linejoin="round">0.00</text>
<path d="M1173.0,1751.1 V1760.9" stroke="#000" stroke-width="2.3"/>
<text x="1173.0" y="1793.7" font-size="32.3" text-anchor="middle" font-weight="normal" font-style="normal" fill="#000" stroke="#000" stroke-width="0.45" stroke-linejoin="round">chow</text>
<text x="1173.0" y="1830.7" font-size="32.3" text-anchor="middle" font-weight="normal" font-style="normal" fill="#000" stroke="#000" stroke-width="0.45" stroke-linejoin="round">LM485</text>
<path d="M1298.2,1751.1 V1760.9" stroke="#000" stroke-width="2.3"/>
<text x="1298.2" y="1793.7" font-size="32.3" text-anchor="middle" font-weight="normal" font-style="normal" fill="#000" stroke="#000" stroke-width="0.45" stroke-linejoin="round">chow</text>
<text x="1298.2" y="1830.7" font-size="32.3" text-anchor="middle" font-weight="normal" font-style="normal" fill="#000" stroke="#000" stroke-width="0.45" stroke-linejoin="round">2914</text>
<path d="M1173.0,1588.9 V1638.4 M1147.2,1588.9 H1198.8 M1147.2,1638.4 H1198.8" stroke="#000" stroke-width="2.2" fill="none"/>
<path d="M1298.2,1692.4 V1728.7 M1272.4,1692.4 H1324.0 M1272.4,1728.7 H1324.0" stroke="#000" stroke-width="2.2" fill="none"/>
<circle cx="1173.2" cy="1587.8" r="6.5" fill="#fff" stroke="#000" stroke-width="2.1"/>
<circle cx="1145.2" cy="1602.4" r="6.5" fill="#fff" stroke="#000" stroke-width="2.1"/>
<circle cx="1173.2" cy="1613.1" r="6.5" fill="#fff" stroke="#000" stroke-width="2.1"/>
<circle cx="1201.5" cy="1611.3" r="6.5" fill="#fff" stroke="#000" stroke-width="2.1"/>
<circle cx="1173.2" cy="1654.7" r="6.5" fill="#fff" stroke="#000" stroke-width="2.1"/>
<circle cx="1298.5" cy="1683.3" r="6.5" fill="#fff" stroke="#000" stroke-width="2.1"/>
<circle cx="1270.4" cy="1707.7" r="6.5" fill="#fff" stroke="#000" stroke-width="2.1"/>
<circle cx="1298.5" cy="1710.0" r="6.5" fill="#fff" stroke="#000" stroke-width="2.1"/>
<circle cx="1326.3" cy="1720.2" r="6.5" fill="#fff" stroke="#000" stroke-width="2.1"/>
<circle cx="1270.4" cy="1731.7" r="6.5" fill="#fff" stroke="#000" stroke-width="2.1"/>
<path d="M1173.0,1575.4 V1560.8 H1298.5 V1669.8" stroke="#000" stroke-width="2.6" fill="none" stroke-linejoin="miter"/>
<text x="1235.3" y="1548.3" font-size="22" text-anchor="middle" font-weight="bold" font-style="normal" fill="#000" stroke="#000" stroke-width="0.45" stroke-linejoin="round">0.0079</text>
<text x="1630.9" y="1459.5" font-size="31.7" text-anchor="middle" font-weight="normal" font-style="italic" fill="#000" stroke="#000" stroke-width="0.45" stroke-linejoin="round">Malassezia</text>
<path d="M1493.1,1516.8 V1752.3" stroke="#000" stroke-width="2.5" fill="none"/>
<path d="M1483.4,1751.1 H1768.1" stroke="#000" stroke-width="2.5" fill="none"/>
<path d="M1483.3,1518.0 H1493.1" stroke="#000" stroke-width="2.3"/>
<text x="1478.9" y="1529.6" font-size="32.3" text-anchor="end" font-weight="normal" font-style="normal" fill="#000" stroke="#000" stroke-width="0.45" stroke-linejoin="round">0.8</text>
<path d="M1483.3,1576.6 H1493.1" stroke="#000" stroke-width="2.3"/>
<text x="1478.9" y="1588.2" font-size="32.3" text-anchor="end" font-weight="normal" font-style="normal" fill="#000" stroke="#000" stroke-width="0.45" stroke-linejoin="round">0.6</text>
<path d="M1483.3,1634.8 H1493.1" stroke="#000" stroke-width="2.3"/>
<text x="1478.9" y="1646.4" font-size="32.3" text-anchor="end" font-weight="normal" font-style="normal" fill="#000" stroke="#000" stroke-width="0.45" stroke-linejoin="round">0.4</text>
<path d="M1483.3,1693.0 H1493.1" stroke="#000" stroke-width="2.3"/>
<text x="1478.9" y="1704.6" font-size="32.3" text-anchor="end" font-weight="normal" font-style="normal" fill="#000" stroke="#000" stroke-width="0.45" stroke-linejoin="round">0.2</text>
<path d="M1483.3,1751.1 H1493.1" stroke="#000" stroke-width="2.3"/>
<text x="1478.9" y="1762.7" font-size="32.3" text-anchor="end" font-weight="normal" font-style="normal" fill="#000" stroke="#000" stroke-width="0.45" stroke-linejoin="round">0.0</text>
<path d="M1567.6,1751.1 V1760.9" stroke="#000" stroke-width="2.3"/>
<text x="1567.6" y="1793.7" font-size="32.3" text-anchor="middle" font-weight="normal" font-style="normal" fill="#000" stroke="#000" stroke-width="0.45" stroke-linejoin="round">chow</text>
<text x="1567.6" y="1830.7" font-size="32.3" text-anchor="middle" font-weight="normal" font-style="normal" fill="#000" stroke="#000" stroke-width="0.45" stroke-linejoin="round">LM485</text>
<path d="M1692.9,1751.1 V1760.9" stroke="#000" stroke-width="2.3"/>
<text x="1692.9" y="1793.7" font-size="32.3" text-anchor="middle" font-weight="normal" font-style="normal" fill="#000" stroke="#000" stroke-width="0.45" stroke-linejoin="round">chow</text>
<text x="1692.9" y="1830.7" font-size="32.3" text-anchor="middle" font-weight="normal" font-style="normal" fill="#000" stroke="#000" stroke-width="0.45" stroke-linejoin="round">2914</text>
<circle cx="1524.5" cy="1751.1" r="6.5" fill="#fff" stroke="#000" stroke-width="2.1"/>
<circle cx="1546.2" cy="1748.6" r="6.5" fill="#fff" stroke="#000" stroke-width="2.1"/>
<circle cx="1567.6" cy="1751.6" r="6.5" fill="#fff" stroke="#000" stroke-width="2.1"/>
<circle cx="1589.3" cy="1749.1" r="6.5" fill="#fff" stroke="#000" stroke-width="2.1"/>
<circle cx="1610.7" cy="1751.6" r="6.5" fill="#fff" stroke="#000" stroke-width="2.1"/>
<circle cx="1649.7" cy="1751.1" r="6.5" fill="#fff" stroke="#000" stroke-width="2.1"/>
<circle cx="1671.4" cy="1751.1" r="6.5" fill="#fff" stroke="#000" stroke-width="2.1"/>
<circle cx="1692.9" cy="1751.6" r="6.5" fill="#fff" stroke="#000" stroke-width="2.1"/>
<circle cx="1714.5" cy="1751.1" r="6.5" fill="#fff" stroke="#000" stroke-width="2.1"/>
<circle cx="1736.0" cy="1751.1" r="6.5" fill="#fff" stroke="#000" stroke-width="2.1"/>
<path d="M1567.6,1735.6 V1721.5 H1693.4 V1738.2" stroke="#000" stroke-width="2.6" fill="none" stroke-linejoin="miter"/>
<text x="1630.2" y="1708.8" font-size="22" text-anchor="middle" font-weight="normal" font-style="normal" fill="#000" stroke="#000" stroke-width="0.45" stroke-linejoin="round">0.5238</text>
<path d="M1546,1750 H1589" stroke="#000" stroke-width="4.5"/>
<circle cx="1524.5" cy="1751.1" r="6.5" fill="#fff" stroke="#000" stroke-width="2.1"/>
<circle cx="1546.2" cy="1748.6" r="6.5" fill="#fff" stroke="#000" stroke-width="2.1"/>
<circle cx="1567.6" cy="1751.6" r="6.5" fill="#fff" stroke="#000" stroke-width="2.1"/>
<circle cx="1589.3" cy="1749.1" r="6.5" fill="#fff" stroke="#000" stroke-width="2.1"/>
<circle cx="1610.7" cy="1751.6" r="6.5" fill="#fff" stroke="#000" stroke-width="2.1"/>
<circle cx="1649.7" cy="1751.1" r="6.5" fill="#fff" stroke="#000" stroke-width="2.1"/>
<circle cx="1671.4" cy="1751.1" r="6.5" fill="#fff" stroke="#000" stroke-width="2.1"/>
<circle cx="1692.9" cy="1751.6" r="6.5" fill="#fff" stroke="#000" stroke-width="2.1"/>
<circle cx="1714.5" cy="1751.1" r="6.5" fill="#fff" stroke="#000" stroke-width="2.1"/>
<circle cx="1736.0" cy="1751.1" r="6.5" fill="#fff" stroke="#000" stroke-width="2.1"/>
<text x="2030.2" y="1460.8" font-size="31.7" text-anchor="middle" font-weight="normal" font-style="italic" fill="#000" stroke="#000" stroke-width="0.45" stroke-linejoin="round">Aspergillus</text>
<rect x="1918.0" y="1636.3" width="98.5" height="114.8" fill="#0594ff" stroke="#000" stroke-width="2.0"/>
<rect x="2043.5" y="1608.0" width="98.5" height="143.1" fill="#ffca94" stroke="#000" stroke-width="2.0"/>
<path d="M1892.5,1516.8 V1752.3" stroke="#000" stroke-width="2.5" fill="none"/>
<path d="M1882.8,1751.1 H2170.0" stroke="#000" stroke-width="2.5" fill="none"/>
<path d="M1882.7,1518.0 H1892.5" stroke="#000" stroke-width="2.3"/>
<text x="1878.3" y="1529.6" font-size="32.3" text-anchor="end" font-weight="normal" font-style="normal" fill="#000" stroke="#000" stroke-width="0.45" stroke-linejoin="round">0.6</text>
<path d="M1882.7,1595.8 H1892.5" stroke="#000" stroke-width="2.3"/>
<text x="1878.3" y="1607.4" font-size="32.3" text-anchor="end" font-weight="normal" font-style="normal" fill="#000" stroke="#000" stroke-width="0.45" stroke-linejoin="round">0.4</text>
<path d="M1882.7,1673.6 H1892.5" stroke="#000" stroke-width="2.3"/>
<text x="1878.3" y="1685.2" font-size="32.3" text-anchor="end" font-weight="normal" font-style="normal" fill="#000" stroke="#000" stroke-width="0.45" stroke-linejoin="round">0.2</text>
<path d="M1882.7,1751.1 H1892.5" stroke="#000" stroke-width="2.3"/>
<text x="1878.3" y="1762.7" font-size="32.3" text-anchor="end" font-weight="normal" font-style="normal" fill="#000" stroke="#000" stroke-width="0.45" stroke-linejoin="round">0.0</text>
<path d="M1967.0,1751.1 V1760.9" stroke="#000" stroke-width="2.3"/>
<text x="1967.0" y="1793.7" font-size="32.3" text-anchor="middle" font-weight="normal" font-style="normal" fill="#000" stroke="#000" stroke-width="0.45" stroke-linejoin="round">chow</text>
<text x="1967.0" y="1830.7" font-size="32.3" text-anchor="middle" font-weight="normal" font-style="normal" fill="#000" stroke="#000" stroke-width="0.45" stroke-linejoin="round">LM485</text>
<path d="M2092.2,1751.1 V1760.9" stroke="#000" stroke-width="2.3"/>
<text x="2092.2" y="1793.7" font-size="32.3" text-anchor="middle" font-weight="normal" font-style="normal" fill="#000" stroke="#000" stroke-width="0.45" stroke-linejoin="round">chow</text>
<text x="2092.2" y="1830.7" font-size="32.3" text-anchor="middle" font-weight="normal" font-style="normal" fill="#000" stroke="#000" stroke-width="0.45" stroke-linejoin="round">2914</text>
<path d="M1967.0,1606.0 V1664.4 M1941.2,1606.0 H1992.8 M1941.2,1664.4 H1992.8" stroke="#000" stroke-width="2.2" fill="none"/>
<path d="M2092.2,1589.1 V1624.1 M2066.4,1589.1 H2118.0 M2066.4,1624.1 H2118.0" stroke="#000" stroke-width="2.2" fill="none"/>
<circle cx="1967.2" cy="1602.9" r="6.5" fill="#fff" stroke="#000" stroke-width="2.1"/>
<circle cx="1953.0" cy="1621.0" r="6.5" fill="#fff" stroke="#000" stroke-width="2.1"/>
<circle cx="1981.0" cy="1619.5" r="6.5" fill="#fff" stroke="#000" stroke-width="2.1"/>
<circle cx="1981.0" cy="1661.8" r="6.5" fill="#fff" stroke="#000" stroke-width="2.1"/>
<circle cx="1953.0" cy="1671.3" r="6.5" fill="#fff" stroke="#000" stroke-width="2.1"/>
<circle cx="2092.5" cy="1578.2" r="6.5" fill="#fff" stroke="#000" stroke-width="2.1"/>
<circle cx="2049.4" cy="1607.5" r="6.5" fill="#fff" stroke="#000" stroke-width="2.1"/>
<circle cx="2135.6" cy="1608.0" r="6.5" fill="#fff" stroke="#000" stroke-width="2.1"/>
<circle cx="2049.4" cy="1621.8" r="6.5" fill="#fff" stroke="#000" stroke-width="2.1"/>
<circle cx="2106.8" cy="1619.5" r="6.5" fill="#fff" stroke="#000" stroke-width="2.1"/>
<path d="M1967.0,1589.7 V1551.1 H2092.7 V1565.2" stroke="#000" stroke-width="2.6" fill="none" stroke-linejoin="miter"/>
<text x="2029.5" y="1538.1" font-size="22" text-anchor="middle" font-weight="normal" font-style="normal" fill="#000" stroke="#000" stroke-width="0.45" stroke-linejoin="round">0.2222</text>
</svg>
</body></html>
